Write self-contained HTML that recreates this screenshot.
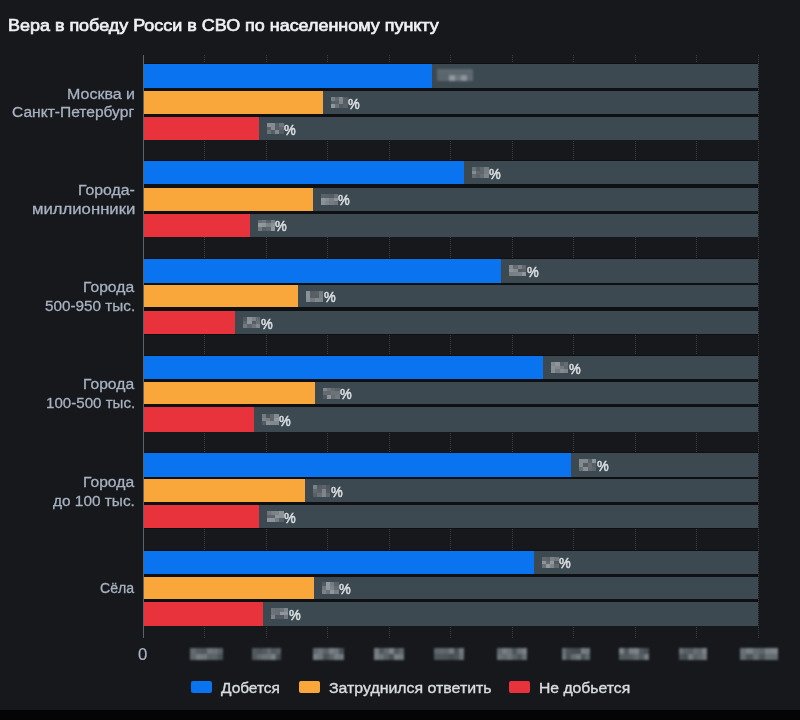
<!DOCTYPE html>
<html><head><meta charset="utf-8">
<style>
html,body{margin:0;padding:0;}
body{width:800px;height:720px;background:#16181c;position:relative;overflow:hidden;font-family:"Liberation Sans",sans-serif;}
.title{position:absolute;font-size:17px;line-height:20px;font-weight:normal;color:#eef0f2;-webkit-text-stroke:0.7px #eef0f2;white-space:nowrap;transform-origin:0 0;}
.lab,.lt,.zero,.pct{position:absolute;font-size:15.5px;line-height:20px;white-space:nowrap;transform-origin:0 0;}
.lab{color:#a8b2c1;-webkit-text-stroke:0.3px #a8b2c1;}
.lt{color:#d9dcdf;-webkit-text-stroke:0.4px #d9dcdf;}
.bg{position:absolute;left:144px;width:613.5px;background:#3c4951;}
.bar{position:absolute;left:144px;}
.pct{font-size:14px;color:#d6dadd;-webkit-text-stroke:0.6px #d6dadd;}
.mosw{position:absolute;filter:blur(0.6px);}
.mosw i{position:absolute;display:block;}
.tk{filter:blur(1px);}
.under{position:absolute;left:144px;width:613.5px;background:#0e1013;}
.grid{position:absolute;top:55px;height:583px;width:0;border-left:1px dotted #3a3f45;}
.axis{position:absolute;left:143px;top:55px;width:1px;height:583px;background:#5a636b;}
.tick{position:absolute;top:648px;height:12px;background:#5a626c;}
.zero{color:#a8b2c1;-webkit-text-stroke:0.2px #a8b2c1;}
.sw{position:absolute;top:681.4px;width:21px;height:11.2px;border-radius:2px;}
.bottom{position:absolute;left:0;top:710.3px;width:800px;height:11px;background:#040406;}
</style></head><body>
<div class="title" style="left:8.42px;top:16px;transform:scaleX(1.0554);">Вера в победу Росси в СВО по населенному пункту</div>
<div class="grid" style="left:204.45px"></div><div class="grid" style="left:265.90px"></div><div class="grid" style="left:327.35px"></div><div class="grid" style="left:388.80px"></div><div class="grid" style="left:450.25px"></div><div class="grid" style="left:511.70px"></div><div class="grid" style="left:573.15px"></div><div class="grid" style="left:634.60px"></div><div class="grid" style="left:696.05px"></div><div class="grid" style="left:757.50px"></div>
<div class="axis"></div>
<div class="under" style="top:63.40px;height:77.10px"></div><div class="under" style="top:160.10px;height:77.30px"></div><div class="under" style="top:258.10px;height:76.50px"></div><div class="under" style="top:355.40px;height:76.80px"></div><div class="under" style="top:452.40px;height:76.20px"></div><div class="under" style="top:550.10px;height:76.00px"></div>
<div class="lab" style="left:67.21px;top:84px;transform:scaleX(1.0315);">Москва и</div><div class="lab" style="left:12.25px;top:102px;transform:scaleX(1.0041);">Санкт-Петербург</div><div class="bg" style="top:63.90px;height:24.10px"></div><div class="bar" style="top:63.90px;height:24.10px;width:288.00px;background:#0a74f0"></div><div class="mosw" style="left:437px;top:69px;width:36px;height:12px;background:#56616a;filter:blur(0.8px)"><i style="left:0;top:0;width:36px;height:5px;background:#5d6870"></i><i style="left:0;top:6px;width:11px;height:6px;background:#5a656d"></i><i style="left:12px;top:6px;width:6px;height:6px;background:#8f989e"></i><i style="left:18px;top:6px;width:6px;height:6px;background:#6d777e"></i><i style="left:24px;top:6px;width:6px;height:6px;background:#8a9399"></i><i style="left:30px;top:6px;width:6px;height:6px;background:#5f6a71"></i></div><div class="bg" style="top:91.10px;height:23.00px"></div><div class="bar" style="top:91.10px;height:23.00px;width:178.60px;background:#f9a73a"></div><div class="mosw" style="left:330.60px;top:97.10px;width:17.00px;height:11.00px"><i style="left:0.00px;top:0.00px;width:4.55px;height:3.97px;background:#788086"></i><i style="left:4.25px;top:0.00px;width:4.55px;height:3.97px;background:#626a70"></i><i style="left:8.50px;top:0.00px;width:4.55px;height:3.97px;background:#81898f"></i><i style="left:12.75px;top:0.00px;width:4.55px;height:3.97px;background:#555d63"></i><i style="left:0.00px;top:3.67px;width:4.55px;height:3.97px;background:#586066"></i><i style="left:4.25px;top:3.67px;width:4.55px;height:3.97px;background:#5b6369"></i><i style="left:8.50px;top:3.67px;width:4.55px;height:3.97px;background:#7d858b"></i><i style="left:12.75px;top:3.67px;width:4.55px;height:3.97px;background:#565e64"></i><i style="left:0.00px;top:7.33px;width:4.55px;height:3.97px;background:#8f979d"></i><i style="left:4.25px;top:7.33px;width:4.55px;height:3.97px;background:#6a7278"></i><i style="left:8.50px;top:7.33px;width:4.55px;height:3.97px;background:#535b61"></i><i style="left:12.75px;top:7.33px;width:4.55px;height:3.97px;background:#5a6268"></i></div><div class="pct" style="left:348.13px;top:94px;transform:scaleX(0.9391);">%</div><div class="bg" style="top:116.90px;height:23.10px"></div><div class="bar" style="top:116.90px;height:23.10px;width:114.60px;background:#e8333c"></div><div class="mosw" style="left:266.60px;top:122.95px;width:17.00px;height:11.00px"><i style="left:0.00px;top:0.00px;width:4.55px;height:3.97px;background:#868e94"></i><i style="left:4.25px;top:0.00px;width:4.55px;height:3.97px;background:#848c92"></i><i style="left:8.50px;top:0.00px;width:4.55px;height:3.97px;background:#575f65"></i><i style="left:12.75px;top:0.00px;width:4.55px;height:3.97px;background:#6d757b"></i><i style="left:0.00px;top:3.67px;width:4.55px;height:3.97px;background:#5a6268"></i><i style="left:4.25px;top:3.67px;width:4.55px;height:3.97px;background:#858d93"></i><i style="left:8.50px;top:3.67px;width:4.55px;height:3.97px;background:#565e64"></i><i style="left:12.75px;top:3.67px;width:4.55px;height:3.97px;background:#5e666c"></i><i style="left:0.00px;top:7.33px;width:4.55px;height:3.97px;background:#6b7379"></i><i style="left:4.25px;top:7.33px;width:4.55px;height:3.97px;background:#565e64"></i><i style="left:8.50px;top:7.33px;width:4.55px;height:3.97px;background:#81898f"></i><i style="left:12.75px;top:7.33px;width:4.55px;height:3.97px;background:#555d63"></i></div><div class="pct" style="left:284.13px;top:120px;transform:scaleX(0.9391);">%</div><div class="lab" style="left:77.92px;top:180px;transform:scaleX(1.0214);">Города-</div><div class="lab" style="left:32.12px;top:199px;transform:scaleX(1.0773);">миллионники</div><div class="bg" style="top:160.60px;height:23.80px"></div><div class="bar" style="top:160.60px;height:23.80px;width:319.60px;background:#0a74f0"></div><div class="mosw" style="left:471.60px;top:167.00px;width:17.00px;height:11.00px"><i style="left:0.00px;top:0.00px;width:4.55px;height:3.97px;background:#6b7379"></i><i style="left:4.25px;top:0.00px;width:4.55px;height:3.97px;background:#545c62"></i><i style="left:8.50px;top:0.00px;width:4.55px;height:3.97px;background:#60686e"></i><i style="left:12.75px;top:0.00px;width:4.55px;height:3.97px;background:#747c82"></i><i style="left:0.00px;top:3.67px;width:4.55px;height:3.97px;background:#848c92"></i><i style="left:4.25px;top:3.67px;width:4.55px;height:3.97px;background:#61696f"></i><i style="left:8.50px;top:3.67px;width:4.55px;height:3.97px;background:#5e666c"></i><i style="left:12.75px;top:3.67px;width:4.55px;height:3.97px;background:#767e84"></i><i style="left:0.00px;top:7.33px;width:4.55px;height:3.97px;background:#666e74"></i><i style="left:4.25px;top:7.33px;width:4.55px;height:3.97px;background:#5c646a"></i><i style="left:8.50px;top:7.33px;width:4.55px;height:3.97px;background:#676f75"></i><i style="left:12.75px;top:7.33px;width:4.55px;height:3.97px;background:#7e868c"></i></div><div class="pct" style="left:489.13px;top:164px;transform:scaleX(0.9391);">%</div><div class="bg" style="top:187.50px;height:23.75px"></div><div class="bar" style="top:187.50px;height:23.75px;width:168.90px;background:#f9a73a"></div><div class="mosw" style="left:320.90px;top:193.88px;width:17.00px;height:11.00px"><i style="left:0.00px;top:0.00px;width:4.55px;height:3.97px;background:#5b6369"></i><i style="left:4.25px;top:0.00px;width:4.55px;height:3.97px;background:#575f65"></i><i style="left:8.50px;top:0.00px;width:4.55px;height:3.97px;background:#565e64"></i><i style="left:12.75px;top:0.00px;width:4.55px;height:3.97px;background:#697177"></i><i style="left:0.00px;top:3.67px;width:4.55px;height:3.97px;background:#8e969c"></i><i style="left:4.25px;top:3.67px;width:4.55px;height:3.97px;background:#858d93"></i><i style="left:8.50px;top:3.67px;width:4.55px;height:3.97px;background:#777f85"></i><i style="left:12.75px;top:3.67px;width:4.55px;height:3.97px;background:#8a9298"></i><i style="left:0.00px;top:7.33px;width:4.55px;height:3.97px;background:#899197"></i><i style="left:4.25px;top:7.33px;width:4.55px;height:3.97px;background:#7d858b"></i><i style="left:8.50px;top:7.33px;width:4.55px;height:3.97px;background:#757d83"></i><i style="left:12.75px;top:7.33px;width:4.55px;height:3.97px;background:#6e767c"></i></div><div class="pct" style="left:338.43px;top:190px;transform:scaleX(0.9391);">%</div><div class="bg" style="top:213.75px;height:23.15px"></div><div class="bar" style="top:213.75px;height:23.15px;width:105.90px;background:#e8333c"></div><div class="mosw" style="left:257.90px;top:219.82px;width:17.00px;height:11.00px"><i style="left:0.00px;top:0.00px;width:4.55px;height:3.97px;background:#666e74"></i><i style="left:4.25px;top:0.00px;width:4.55px;height:3.97px;background:#6e767c"></i><i style="left:8.50px;top:0.00px;width:4.55px;height:3.97px;background:#596167"></i><i style="left:12.75px;top:0.00px;width:4.55px;height:3.97px;background:#757d83"></i><i style="left:0.00px;top:3.67px;width:4.55px;height:3.97px;background:#929aa0"></i><i style="left:4.25px;top:3.67px;width:4.55px;height:3.97px;background:#8e969c"></i><i style="left:8.50px;top:3.67px;width:4.55px;height:3.97px;background:#7a8288"></i><i style="left:12.75px;top:3.67px;width:4.55px;height:3.97px;background:#889096"></i><i style="left:0.00px;top:7.33px;width:4.55px;height:3.97px;background:#737b81"></i><i style="left:4.25px;top:7.33px;width:4.55px;height:3.97px;background:#586066"></i><i style="left:8.50px;top:7.33px;width:4.55px;height:3.97px;background:#5e666c"></i><i style="left:12.75px;top:7.33px;width:4.55px;height:3.97px;background:#90989e"></i></div><div class="pct" style="left:275.43px;top:216px;transform:scaleX(0.9391);">%</div><div class="lab" style="left:82.74px;top:277px;transform:scaleX(1.0112);">Города</div><div class="lab" style="left:44.96px;top:296px;transform:scaleX(0.9860);">500-950 тыс.</div><div class="bg" style="top:258.60px;height:24.10px"></div><div class="bar" style="top:258.60px;height:24.10px;width:357.00px;background:#0a74f0"></div><div class="mosw" style="left:509.00px;top:265.15px;width:17.00px;height:11.00px"><i style="left:0.00px;top:0.00px;width:4.55px;height:3.97px;background:#848c92"></i><i style="left:4.25px;top:0.00px;width:4.55px;height:3.97px;background:#646c72"></i><i style="left:8.50px;top:0.00px;width:4.55px;height:3.97px;background:#7a8288"></i><i style="left:12.75px;top:0.00px;width:4.55px;height:3.97px;background:#626a70"></i><i style="left:0.00px;top:3.67px;width:4.55px;height:3.97px;background:#8d959b"></i><i style="left:4.25px;top:3.67px;width:4.55px;height:3.97px;background:#848c92"></i><i style="left:8.50px;top:3.67px;width:4.55px;height:3.97px;background:#545c62"></i><i style="left:12.75px;top:3.67px;width:4.55px;height:3.97px;background:#586066"></i><i style="left:0.00px;top:7.33px;width:4.55px;height:3.97px;background:#777f85"></i><i style="left:4.25px;top:7.33px;width:4.55px;height:3.97px;background:#7a8288"></i><i style="left:8.50px;top:7.33px;width:4.55px;height:3.97px;background:#7b8389"></i><i style="left:12.75px;top:7.33px;width:4.55px;height:3.97px;background:#8e969c"></i></div><div class="pct" style="left:526.53px;top:262px;transform:scaleX(0.9391);">%</div><div class="bg" style="top:284.90px;height:22.60px"></div><div class="bar" style="top:284.90px;height:22.60px;width:154.00px;background:#f9a73a"></div><div class="mosw" style="left:306.00px;top:290.70px;width:17.00px;height:11.00px"><i style="left:0.00px;top:0.00px;width:4.55px;height:3.97px;background:#899197"></i><i style="left:4.25px;top:0.00px;width:4.55px;height:3.97px;background:#575f65"></i><i style="left:8.50px;top:0.00px;width:4.55px;height:3.97px;background:#5a6268"></i><i style="left:12.75px;top:0.00px;width:4.55px;height:3.97px;background:#71797f"></i><i style="left:0.00px;top:3.67px;width:4.55px;height:3.97px;background:#8b9399"></i><i style="left:4.25px;top:3.67px;width:4.55px;height:3.97px;background:#575f65"></i><i style="left:8.50px;top:3.67px;width:4.55px;height:3.97px;background:#565e64"></i><i style="left:12.75px;top:3.67px;width:4.55px;height:3.97px;background:#767e84"></i><i style="left:0.00px;top:7.33px;width:4.55px;height:3.97px;background:#889096"></i><i style="left:4.25px;top:7.33px;width:4.55px;height:3.97px;background:#737b81"></i><i style="left:8.50px;top:7.33px;width:4.55px;height:3.97px;background:#80888e"></i><i style="left:12.75px;top:7.33px;width:4.55px;height:3.97px;background:#7b8389"></i></div><div class="pct" style="left:323.53px;top:287px;transform:scaleX(0.9391);">%</div><div class="bg" style="top:310.90px;height:23.20px"></div><div class="bar" style="top:310.90px;height:23.20px;width:91.00px;background:#e8333c"></div><div class="mosw" style="left:243.00px;top:317.00px;width:17.00px;height:11.00px"><i style="left:0.00px;top:0.00px;width:4.55px;height:3.97px;background:#51595f"></i><i style="left:4.25px;top:0.00px;width:4.55px;height:3.97px;background:#8a9298"></i><i style="left:8.50px;top:0.00px;width:4.55px;height:3.97px;background:#7c848a"></i><i style="left:12.75px;top:0.00px;width:4.55px;height:3.97px;background:#646c72"></i><i style="left:0.00px;top:3.67px;width:4.55px;height:3.97px;background:#5d656b"></i><i style="left:4.25px;top:3.67px;width:4.55px;height:3.97px;background:#8e969c"></i><i style="left:8.50px;top:3.67px;width:4.55px;height:3.97px;background:#565e64"></i><i style="left:12.75px;top:3.67px;width:4.55px;height:3.97px;background:#6a7278"></i><i style="left:0.00px;top:7.33px;width:4.55px;height:3.97px;background:#737b81"></i><i style="left:4.25px;top:7.33px;width:4.55px;height:3.97px;background:#5f676d"></i><i style="left:8.50px;top:7.33px;width:4.55px;height:3.97px;background:#6e767c"></i><i style="left:12.75px;top:7.33px;width:4.55px;height:3.97px;background:#81898f"></i></div><div class="pct" style="left:260.53px;top:314px;transform:scaleX(0.9391);">%</div><div class="lab" style="left:82.74px;top:374px;transform:scaleX(1.0112);">Города</div><div class="lab" style="left:45.98px;top:393px;transform:scaleX(0.9746);">100-500 тыс.</div><div class="bg" style="top:355.90px;height:23.50px"></div><div class="bar" style="top:355.90px;height:23.50px;width:399.00px;background:#0a74f0"></div><div class="mosw" style="left:551.00px;top:362.15px;width:17.00px;height:11.00px"><i style="left:0.00px;top:0.00px;width:4.55px;height:3.97px;background:#81898f"></i><i style="left:4.25px;top:0.00px;width:4.55px;height:3.97px;background:#8e969c"></i><i style="left:8.50px;top:0.00px;width:4.55px;height:3.97px;background:#596167"></i><i style="left:12.75px;top:0.00px;width:4.55px;height:3.97px;background:#646c72"></i><i style="left:0.00px;top:3.67px;width:4.55px;height:3.97px;background:#889096"></i><i style="left:4.25px;top:3.67px;width:4.55px;height:3.97px;background:#828a90"></i><i style="left:8.50px;top:3.67px;width:4.55px;height:3.97px;background:#727a80"></i><i style="left:12.75px;top:3.67px;width:4.55px;height:3.97px;background:#60686e"></i><i style="left:0.00px;top:7.33px;width:4.55px;height:3.97px;background:#868e94"></i><i style="left:4.25px;top:7.33px;width:4.55px;height:3.97px;background:#727a80"></i><i style="left:8.50px;top:7.33px;width:4.55px;height:3.97px;background:#848c92"></i><i style="left:12.75px;top:7.33px;width:4.55px;height:3.97px;background:#7c848a"></i></div><div class="pct" style="left:568.53px;top:359px;transform:scaleX(0.9391);">%</div><div class="bg" style="top:381.60px;height:22.90px"></div><div class="bar" style="top:381.60px;height:22.90px;width:170.50px;background:#f9a73a"></div><div class="mosw" style="left:322.50px;top:387.55px;width:17.00px;height:11.00px"><i style="left:0.00px;top:0.00px;width:4.55px;height:3.97px;background:#7f878d"></i><i style="left:4.25px;top:0.00px;width:4.55px;height:3.97px;background:#6c747a"></i><i style="left:8.50px;top:0.00px;width:4.55px;height:3.97px;background:#626a70"></i><i style="left:12.75px;top:0.00px;width:4.55px;height:3.97px;background:#596167"></i><i style="left:0.00px;top:3.67px;width:4.55px;height:3.97px;background:#656d73"></i><i style="left:4.25px;top:3.67px;width:4.55px;height:3.97px;background:#626a70"></i><i style="left:8.50px;top:3.67px;width:4.55px;height:3.97px;background:#6c747a"></i><i style="left:12.75px;top:3.67px;width:4.55px;height:3.97px;background:#6c747a"></i><i style="left:0.00px;top:7.33px;width:4.55px;height:3.97px;background:#50585e"></i><i style="left:4.25px;top:7.33px;width:4.55px;height:3.97px;background:#8d959b"></i><i style="left:8.50px;top:7.33px;width:4.55px;height:3.97px;background:#666e74"></i><i style="left:12.75px;top:7.33px;width:4.55px;height:3.97px;background:#70787e"></i></div><div class="pct" style="left:340.03px;top:384px;transform:scaleX(0.9391);">%</div><div class="bg" style="top:407.30px;height:24.40px"></div><div class="bar" style="top:407.30px;height:24.40px;width:109.50px;background:#e8333c"></div><div class="mosw" style="left:261.50px;top:414.00px;width:17.00px;height:11.00px"><i style="left:0.00px;top:0.00px;width:4.55px;height:3.97px;background:#737b81"></i><i style="left:4.25px;top:0.00px;width:4.55px;height:3.97px;background:#4f575d"></i><i style="left:8.50px;top:0.00px;width:4.55px;height:3.97px;background:#61696f"></i><i style="left:12.75px;top:0.00px;width:4.55px;height:3.97px;background:#848c92"></i><i style="left:0.00px;top:3.67px;width:4.55px;height:3.97px;background:#7e868c"></i><i style="left:4.25px;top:3.67px;width:4.55px;height:3.97px;background:#777f85"></i><i style="left:8.50px;top:3.67px;width:4.55px;height:3.97px;background:#5f676d"></i><i style="left:12.75px;top:3.67px;width:4.55px;height:3.97px;background:#90989e"></i><i style="left:0.00px;top:7.33px;width:4.55px;height:3.97px;background:#555d63"></i><i style="left:4.25px;top:7.33px;width:4.55px;height:3.97px;background:#899197"></i><i style="left:8.50px;top:7.33px;width:4.55px;height:3.97px;background:#81898f"></i><i style="left:12.75px;top:7.33px;width:4.55px;height:3.97px;background:#81898f"></i></div><div class="pct" style="left:279.03px;top:411px;transform:scaleX(0.9391);">%</div><div class="lab" style="left:82.74px;top:472px;transform:scaleX(1.0112);">Города</div><div class="lab" style="left:53.25px;top:491px;transform:scaleX(0.9932);">до 100 тыс.</div><div class="bg" style="top:452.90px;height:23.80px"></div><div class="bar" style="top:452.90px;height:23.80px;width:427.20px;background:#0a74f0"></div><div class="mosw" style="left:579.20px;top:459.30px;width:17.00px;height:11.00px"><i style="left:0.00px;top:0.00px;width:4.55px;height:3.97px;background:#828a90"></i><i style="left:4.25px;top:0.00px;width:4.55px;height:3.97px;background:#81898f"></i><i style="left:8.50px;top:0.00px;width:4.55px;height:3.97px;background:#5c646a"></i><i style="left:12.75px;top:0.00px;width:4.55px;height:3.97px;background:#8c949a"></i><i style="left:0.00px;top:3.67px;width:4.55px;height:3.97px;background:#828a90"></i><i style="left:4.25px;top:3.67px;width:4.55px;height:3.97px;background:#565e64"></i><i style="left:8.50px;top:3.67px;width:4.55px;height:3.97px;background:#676f75"></i><i style="left:12.75px;top:3.67px;width:4.55px;height:3.97px;background:#575f65"></i><i style="left:0.00px;top:7.33px;width:4.55px;height:3.97px;background:#697177"></i><i style="left:4.25px;top:7.33px;width:4.55px;height:3.97px;background:#878f95"></i><i style="left:8.50px;top:7.33px;width:4.55px;height:3.97px;background:#636b71"></i><i style="left:12.75px;top:7.33px;width:4.55px;height:3.97px;background:#5d656b"></i></div><div class="pct" style="left:596.73px;top:456px;transform:scaleX(0.9391);">%</div><div class="bg" style="top:479.20px;height:23.20px"></div><div class="bar" style="top:479.20px;height:23.20px;width:161.00px;background:#f9a73a"></div><div class="mosw" style="left:313.00px;top:485.30px;width:17.00px;height:11.00px"><i style="left:0.00px;top:0.00px;width:4.55px;height:3.97px;background:#7a8288"></i><i style="left:4.25px;top:0.00px;width:4.55px;height:3.97px;background:#555d63"></i><i style="left:8.50px;top:0.00px;width:4.55px;height:3.97px;background:#5c646a"></i><i style="left:12.75px;top:0.00px;width:4.55px;height:3.97px;background:#4f575d"></i><i style="left:0.00px;top:3.67px;width:4.55px;height:3.97px;background:#626a70"></i><i style="left:4.25px;top:3.67px;width:4.55px;height:3.97px;background:#5b6369"></i><i style="left:8.50px;top:3.67px;width:4.55px;height:3.97px;background:#7d858b"></i><i style="left:12.75px;top:3.67px;width:4.55px;height:3.97px;background:#525a60"></i><i style="left:0.00px;top:7.33px;width:4.55px;height:3.97px;background:#586066"></i><i style="left:4.25px;top:7.33px;width:4.55px;height:3.97px;background:#697177"></i><i style="left:8.50px;top:7.33px;width:4.55px;height:3.97px;background:#7f878d"></i><i style="left:12.75px;top:7.33px;width:4.55px;height:3.97px;background:#626a70"></i></div><div class="pct" style="left:330.53px;top:482px;transform:scaleX(0.9391);">%</div><div class="bg" style="top:504.90px;height:23.20px"></div><div class="bar" style="top:504.90px;height:23.20px;width:114.50px;background:#e8333c"></div><div class="mosw" style="left:266.50px;top:511.00px;width:17.00px;height:11.00px"><i style="left:0.00px;top:0.00px;width:4.55px;height:3.97px;background:#6f777d"></i><i style="left:4.25px;top:0.00px;width:4.55px;height:3.97px;background:#7b8389"></i><i style="left:8.50px;top:0.00px;width:4.55px;height:3.97px;background:#7d858b"></i><i style="left:12.75px;top:0.00px;width:4.55px;height:3.97px;background:#8b9399"></i><i style="left:0.00px;top:3.67px;width:4.55px;height:3.97px;background:#5e666c"></i><i style="left:4.25px;top:3.67px;width:4.55px;height:3.97px;background:#5d656b"></i><i style="left:8.50px;top:3.67px;width:4.55px;height:3.97px;background:#8d959b"></i><i style="left:12.75px;top:3.67px;width:4.55px;height:3.97px;background:#8a9298"></i><i style="left:0.00px;top:7.33px;width:4.55px;height:3.97px;background:#8c949a"></i><i style="left:4.25px;top:7.33px;width:4.55px;height:3.97px;background:#8c949a"></i><i style="left:8.50px;top:7.33px;width:4.55px;height:3.97px;background:#767e84"></i><i style="left:12.75px;top:7.33px;width:4.55px;height:3.97px;background:#596167"></i></div><div class="pct" style="left:284.03px;top:508px;transform:scaleX(0.9391);">%</div><div class="lab" style="left:99.82px;top:578px;transform:scaleX(0.9116);">Сёла</div><div class="bg" style="top:550.60px;height:23.50px"></div><div class="bar" style="top:550.60px;height:23.50px;width:389.50px;background:#0a74f0"></div><div class="mosw" style="left:541.50px;top:556.85px;width:17.00px;height:11.00px"><i style="left:0.00px;top:0.00px;width:4.55px;height:3.97px;background:#61696f"></i><i style="left:4.25px;top:0.00px;width:4.55px;height:3.97px;background:#5c646a"></i><i style="left:8.50px;top:0.00px;width:4.55px;height:3.97px;background:#7a8288"></i><i style="left:12.75px;top:0.00px;width:4.55px;height:3.97px;background:#70787e"></i><i style="left:0.00px;top:3.67px;width:4.55px;height:3.97px;background:#8c949a"></i><i style="left:4.25px;top:3.67px;width:4.55px;height:3.97px;background:#636b71"></i><i style="left:8.50px;top:3.67px;width:4.55px;height:3.97px;background:#91999f"></i><i style="left:12.75px;top:3.67px;width:4.55px;height:3.97px;background:#51595f"></i><i style="left:0.00px;top:7.33px;width:4.55px;height:3.97px;background:#697177"></i><i style="left:4.25px;top:7.33px;width:4.55px;height:3.97px;background:#929aa0"></i><i style="left:8.50px;top:7.33px;width:4.55px;height:3.97px;background:#7d858b"></i><i style="left:12.75px;top:7.33px;width:4.55px;height:3.97px;background:#61696f"></i></div><div class="pct" style="left:559.03px;top:553px;transform:scaleX(0.9391);">%</div><div class="bg" style="top:576.60px;height:22.50px"></div><div class="bar" style="top:576.60px;height:22.50px;width:169.50px;background:#f9a73a"></div><div class="mosw" style="left:321.50px;top:582.35px;width:17.00px;height:11.00px"><i style="left:0.00px;top:0.00px;width:4.55px;height:3.97px;background:#525a60"></i><i style="left:4.25px;top:0.00px;width:4.55px;height:3.97px;background:#929aa0"></i><i style="left:8.50px;top:0.00px;width:4.55px;height:3.97px;background:#757d83"></i><i style="left:12.75px;top:0.00px;width:4.55px;height:3.97px;background:#5a6268"></i><i style="left:0.00px;top:3.67px;width:4.55px;height:3.97px;background:#70787e"></i><i style="left:4.25px;top:3.67px;width:4.55px;height:3.97px;background:#91999f"></i><i style="left:8.50px;top:3.67px;width:4.55px;height:3.97px;background:#7d858b"></i><i style="left:12.75px;top:3.67px;width:4.55px;height:3.97px;background:#646c72"></i><i style="left:0.00px;top:7.33px;width:4.55px;height:3.97px;background:#7c848a"></i><i style="left:4.25px;top:7.33px;width:4.55px;height:3.97px;background:#6b7379"></i><i style="left:8.50px;top:7.33px;width:4.55px;height:3.97px;background:#8f979d"></i><i style="left:12.75px;top:7.33px;width:4.55px;height:3.97px;background:#798187"></i></div><div class="pct" style="left:339.03px;top:579px;transform:scaleX(0.9391);">%</div><div class="bg" style="top:601.60px;height:24.00px"></div><div class="bar" style="top:601.60px;height:24.00px;width:119.00px;background:#e8333c"></div><div class="mosw" style="left:271.00px;top:608.10px;width:17.00px;height:11.00px"><i style="left:0.00px;top:0.00px;width:4.55px;height:3.97px;background:#6b7379"></i><i style="left:4.25px;top:0.00px;width:4.55px;height:3.97px;background:#676f75"></i><i style="left:8.50px;top:0.00px;width:4.55px;height:3.97px;background:#6d757b"></i><i style="left:12.75px;top:0.00px;width:4.55px;height:3.97px;background:#828a90"></i><i style="left:0.00px;top:3.67px;width:4.55px;height:3.97px;background:#6c747a"></i><i style="left:4.25px;top:3.67px;width:4.55px;height:3.97px;background:#687076"></i><i style="left:8.50px;top:3.67px;width:4.55px;height:3.97px;background:#91999f"></i><i style="left:12.75px;top:3.67px;width:4.55px;height:3.97px;background:#8e969c"></i><i style="left:0.00px;top:7.33px;width:4.55px;height:3.97px;background:#7c848a"></i><i style="left:4.25px;top:7.33px;width:4.55px;height:3.97px;background:#525a60"></i><i style="left:8.50px;top:7.33px;width:4.55px;height:3.97px;background:#525a60"></i><i style="left:12.75px;top:7.33px;width:4.55px;height:3.97px;background:#727a80"></i></div><div class="pct" style="left:288.53px;top:605px;transform:scaleX(0.9391);">%</div>
<div class="zero" style="left:138.4px;top:643px;transform:scale(1.08,1.1);transform-origin:0 0">0</div>
<div class="mosw tk" style="left:190.00px;top:648.00px;width:33.00px;height:12.00px"><i style="left:0.00px;top:0.00px;width:5.80px;height:6.30px;background:#626a70"></i><i style="left:5.50px;top:0.00px;width:5.80px;height:6.30px;background:#545c62"></i><i style="left:11.00px;top:0.00px;width:5.80px;height:6.30px;background:#50585e"></i><i style="left:16.50px;top:0.00px;width:5.80px;height:6.30px;background:#70787e"></i><i style="left:22.00px;top:0.00px;width:5.80px;height:6.30px;background:#6a7278"></i><i style="left:27.50px;top:0.00px;width:5.80px;height:6.30px;background:#5a6268"></i><i style="left:0.00px;top:6.00px;width:5.80px;height:6.30px;background:#60686e"></i><i style="left:5.50px;top:6.00px;width:5.80px;height:6.30px;background:#777f85"></i><i style="left:11.00px;top:6.00px;width:5.80px;height:6.30px;background:#727a80"></i><i style="left:16.50px;top:6.00px;width:5.80px;height:6.30px;background:#5a6268"></i><i style="left:22.00px;top:6.00px;width:5.80px;height:6.30px;background:#5b6369"></i><i style="left:27.50px;top:6.00px;width:5.80px;height:6.30px;background:#495157"></i></div><div class="mosw tk" style="left:252.00px;top:648.00px;width:29.00px;height:12.00px"><i style="left:0.00px;top:0.00px;width:5.13px;height:6.30px;background:#525a60"></i><i style="left:4.83px;top:0.00px;width:5.13px;height:6.30px;background:#4a5258"></i><i style="left:9.67px;top:0.00px;width:5.13px;height:6.30px;background:#525a60"></i><i style="left:14.50px;top:0.00px;width:5.13px;height:6.30px;background:#626a70"></i><i style="left:19.33px;top:0.00px;width:5.13px;height:6.30px;background:#50585e"></i><i style="left:24.17px;top:0.00px;width:5.13px;height:6.30px;background:#596167"></i><i style="left:0.00px;top:6.00px;width:5.13px;height:6.30px;background:#51595f"></i><i style="left:4.83px;top:6.00px;width:5.13px;height:6.30px;background:#626a70"></i><i style="left:9.67px;top:6.00px;width:5.13px;height:6.30px;background:#6b7379"></i><i style="left:14.50px;top:6.00px;width:5.13px;height:6.30px;background:#6b7379"></i><i style="left:19.33px;top:6.00px;width:5.13px;height:6.30px;background:#798187"></i><i style="left:24.17px;top:6.00px;width:5.13px;height:6.30px;background:#444c52"></i></div><div class="mosw tk" style="left:313.00px;top:648.00px;width:31.00px;height:12.00px"><i style="left:0.00px;top:0.00px;width:5.47px;height:6.30px;background:#626a70"></i><i style="left:5.17px;top:0.00px;width:5.47px;height:6.30px;background:#6d757b"></i><i style="left:10.33px;top:0.00px;width:5.47px;height:6.30px;background:#5a6268"></i><i style="left:15.50px;top:0.00px;width:5.47px;height:6.30px;background:#777f85"></i><i style="left:20.67px;top:0.00px;width:5.47px;height:6.30px;background:#6d757b"></i><i style="left:25.83px;top:0.00px;width:5.47px;height:6.30px;background:#495157"></i><i style="left:0.00px;top:6.00px;width:5.47px;height:6.30px;background:#798187"></i><i style="left:5.17px;top:6.00px;width:5.47px;height:6.30px;background:#6e767c"></i><i style="left:10.33px;top:6.00px;width:5.47px;height:6.30px;background:#4b5359"></i><i style="left:15.50px;top:6.00px;width:5.47px;height:6.30px;background:#5c646a"></i><i style="left:20.67px;top:6.00px;width:5.47px;height:6.30px;background:#767e84"></i><i style="left:25.83px;top:6.00px;width:5.47px;height:6.30px;background:#71797f"></i></div><div class="mosw tk" style="left:374.40px;top:648.00px;width:29.10px;height:12.00px"><i style="left:0.00px;top:0.00px;width:5.15px;height:6.30px;background:#747c82"></i><i style="left:4.85px;top:0.00px;width:5.15px;height:6.30px;background:#50585e"></i><i style="left:9.70px;top:0.00px;width:5.15px;height:6.30px;background:#626a70"></i><i style="left:14.55px;top:0.00px;width:5.15px;height:6.30px;background:#7c848a"></i><i style="left:19.40px;top:0.00px;width:5.15px;height:6.30px;background:#4f575d"></i><i style="left:24.25px;top:0.00px;width:5.15px;height:6.30px;background:#5f676d"></i><i style="left:0.00px;top:6.00px;width:5.15px;height:6.30px;background:#767e84"></i><i style="left:4.85px;top:6.00px;width:5.15px;height:6.30px;background:#6c747a"></i><i style="left:9.70px;top:6.00px;width:5.15px;height:6.30px;background:#596167"></i><i style="left:14.55px;top:6.00px;width:5.15px;height:6.30px;background:#495157"></i><i style="left:19.40px;top:6.00px;width:5.15px;height:6.30px;background:#777f85"></i><i style="left:24.25px;top:6.00px;width:5.15px;height:6.30px;background:#727a80"></i></div><div class="mosw tk" style="left:433.50px;top:648.00px;width:30.00px;height:12.00px"><i style="left:0.00px;top:0.00px;width:5.30px;height:6.30px;background:#5d656b"></i><i style="left:5.00px;top:0.00px;width:5.30px;height:6.30px;background:#61696f"></i><i style="left:10.00px;top:0.00px;width:5.30px;height:6.30px;background:#5d656b"></i><i style="left:15.00px;top:0.00px;width:5.30px;height:6.30px;background:#737b81"></i><i style="left:20.00px;top:0.00px;width:5.30px;height:6.30px;background:#495157"></i><i style="left:25.00px;top:0.00px;width:5.30px;height:6.30px;background:#727a80"></i><i style="left:0.00px;top:6.00px;width:5.30px;height:6.30px;background:#4e565c"></i><i style="left:5.00px;top:6.00px;width:5.30px;height:6.30px;background:#4e565c"></i><i style="left:10.00px;top:6.00px;width:5.30px;height:6.30px;background:#4c545a"></i><i style="left:15.00px;top:6.00px;width:5.30px;height:6.30px;background:#454d53"></i><i style="left:20.00px;top:6.00px;width:5.30px;height:6.30px;background:#4d555b"></i><i style="left:25.00px;top:6.00px;width:5.30px;height:6.30px;background:#697177"></i></div><div class="mosw tk" style="left:496.50px;top:648.00px;width:30.00px;height:12.00px"><i style="left:0.00px;top:0.00px;width:5.30px;height:6.30px;background:#61696f"></i><i style="left:5.00px;top:0.00px;width:5.30px;height:6.30px;background:#777f85"></i><i style="left:10.00px;top:0.00px;width:5.30px;height:6.30px;background:#6d757b"></i><i style="left:15.00px;top:0.00px;width:5.30px;height:6.30px;background:#4d555b"></i><i style="left:20.00px;top:0.00px;width:5.30px;height:6.30px;background:#6b7379"></i><i style="left:25.00px;top:0.00px;width:5.30px;height:6.30px;background:#788086"></i><i style="left:0.00px;top:6.00px;width:5.30px;height:6.30px;background:#6a7278"></i><i style="left:5.00px;top:6.00px;width:5.30px;height:6.30px;background:#626a70"></i><i style="left:10.00px;top:6.00px;width:5.30px;height:6.30px;background:#6e767c"></i><i style="left:15.00px;top:6.00px;width:5.30px;height:6.30px;background:#5a6268"></i><i style="left:20.00px;top:6.00px;width:5.30px;height:6.30px;background:#4d555b"></i><i style="left:25.00px;top:6.00px;width:5.30px;height:6.30px;background:#676f75"></i></div><div class="mosw tk" style="left:561.50px;top:648.00px;width:28.50px;height:12.00px"><i style="left:0.00px;top:0.00px;width:5.05px;height:6.30px;background:#676f75"></i><i style="left:4.75px;top:0.00px;width:5.05px;height:6.30px;background:#4c545a"></i><i style="left:9.50px;top:0.00px;width:5.05px;height:6.30px;background:#454d53"></i><i style="left:14.25px;top:0.00px;width:5.05px;height:6.30px;background:#444c52"></i><i style="left:19.00px;top:0.00px;width:5.05px;height:6.30px;background:#777f85"></i><i style="left:23.75px;top:0.00px;width:5.05px;height:6.30px;background:#727a80"></i><i style="left:0.00px;top:6.00px;width:5.05px;height:6.30px;background:#6d757b"></i><i style="left:4.75px;top:6.00px;width:5.05px;height:6.30px;background:#4a5258"></i><i style="left:9.50px;top:6.00px;width:5.05px;height:6.30px;background:#656d73"></i><i style="left:14.25px;top:6.00px;width:5.05px;height:6.30px;background:#737b81"></i><i style="left:19.00px;top:6.00px;width:5.05px;height:6.30px;background:#4c545a"></i><i style="left:23.75px;top:6.00px;width:5.05px;height:6.30px;background:#5f676d"></i></div><div class="mosw tk" style="left:619.40px;top:648.00px;width:29.10px;height:12.00px"><i style="left:0.00px;top:0.00px;width:5.15px;height:6.30px;background:#7b8389"></i><i style="left:4.85px;top:0.00px;width:5.15px;height:6.30px;background:#50585e"></i><i style="left:9.70px;top:0.00px;width:5.15px;height:6.30px;background:#788086"></i><i style="left:14.55px;top:0.00px;width:5.15px;height:6.30px;background:#7b8389"></i><i style="left:19.40px;top:0.00px;width:5.15px;height:6.30px;background:#51595f"></i><i style="left:24.25px;top:0.00px;width:5.15px;height:6.30px;background:#454d53"></i><i style="left:0.00px;top:6.00px;width:5.15px;height:6.30px;background:#545c62"></i><i style="left:4.85px;top:6.00px;width:5.15px;height:6.30px;background:#51595f"></i><i style="left:9.70px;top:6.00px;width:5.15px;height:6.30px;background:#565e64"></i><i style="left:14.55px;top:6.00px;width:5.15px;height:6.30px;background:#646c72"></i><i style="left:19.40px;top:6.00px;width:5.15px;height:6.30px;background:#535b61"></i><i style="left:24.25px;top:6.00px;width:5.15px;height:6.30px;background:#747c82"></i></div><div class="mosw tk" style="left:678.50px;top:648.00px;width:28.50px;height:12.00px"><i style="left:0.00px;top:0.00px;width:5.05px;height:6.30px;background:#697177"></i><i style="left:4.75px;top:0.00px;width:5.05px;height:6.30px;background:#586066"></i><i style="left:9.50px;top:0.00px;width:5.05px;height:6.30px;background:#545c62"></i><i style="left:14.25px;top:0.00px;width:5.05px;height:6.30px;background:#666e74"></i><i style="left:19.00px;top:0.00px;width:5.05px;height:6.30px;background:#5e666c"></i><i style="left:23.75px;top:0.00px;width:5.05px;height:6.30px;background:#798187"></i><i style="left:0.00px;top:6.00px;width:5.05px;height:6.30px;background:#4c545a"></i><i style="left:4.75px;top:6.00px;width:5.05px;height:6.30px;background:#474f55"></i><i style="left:9.50px;top:6.00px;width:5.05px;height:6.30px;background:#737b81"></i><i style="left:14.25px;top:6.00px;width:5.05px;height:6.30px;background:#5a6268"></i><i style="left:19.00px;top:6.00px;width:5.05px;height:6.30px;background:#61696f"></i><i style="left:23.75px;top:6.00px;width:5.05px;height:6.30px;background:#6e767c"></i></div><div class="mosw tk" style="left:740.00px;top:648.00px;width:37.50px;height:12.00px"><i style="left:0.00px;top:0.00px;width:6.55px;height:6.30px;background:#697177"></i><i style="left:6.25px;top:0.00px;width:6.55px;height:6.30px;background:#788086"></i><i style="left:12.50px;top:0.00px;width:6.55px;height:6.30px;background:#656d73"></i><i style="left:18.75px;top:0.00px;width:6.55px;height:6.30px;background:#5e666c"></i><i style="left:25.00px;top:0.00px;width:6.55px;height:6.30px;background:#788086"></i><i style="left:31.25px;top:0.00px;width:6.55px;height:6.30px;background:#7c848a"></i><i style="left:0.00px;top:6.00px;width:6.55px;height:6.30px;background:#646c72"></i><i style="left:6.25px;top:6.00px;width:6.55px;height:6.30px;background:#4c545a"></i><i style="left:12.50px;top:6.00px;width:6.55px;height:6.30px;background:#666e74"></i><i style="left:18.75px;top:6.00px;width:6.55px;height:6.30px;background:#4d555b"></i><i style="left:25.00px;top:6.00px;width:6.55px;height:6.30px;background:#656d73"></i><i style="left:31.25px;top:6.00px;width:6.55px;height:6.30px;background:#646c72"></i></div>
<div class="sw" style="left:191.25px;background:#0a74f0"></div><div class="lt" style="left:221.25px;top:678px;transform:scaleX(0.9957);">Добется</div><div class="sw" style="left:299.2px;background:#f9a73a"></div><div class="lt" style="left:328.89px;top:678px;transform:scaleX(1.0248);">Затруднился ответить</div><div class="sw" style="left:508.75px;background:#e8333c"></div><div class="lt" style="left:538.63px;top:678px;transform:scaleX(1.0137);">Не добьется</div>
<div class="bottom"></div>
</body></html>
